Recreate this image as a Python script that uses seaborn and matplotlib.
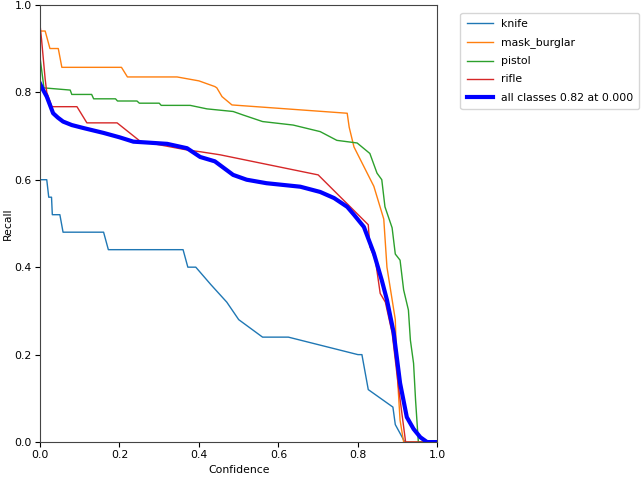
import matplotlib
matplotlib.use('Agg')
import matplotlib.pyplot as plt
import seaborn as sns

# recall vs confidence
knife_x = [0.0, 0.017, 0.022, 0.029, 0.031, 0.05, 0.058, 0.16, 0.172, 0.36, 0.372, 0.392,
           0.43, 0.47, 0.50, 0.56, 0.625, 0.80, 0.81, 0.826, 0.888, 0.894, 0.918, 1.0]
knife_y = [0.60, 0.60, 0.56, 0.56, 0.52, 0.52, 0.48, 0.48, 0.44, 0.44, 0.40, 0.40,
           0.36, 0.32, 0.28, 0.24, 0.24, 0.20, 0.20, 0.12, 0.08, 0.04, 0.0, 0.0]

mask_x = [0.0, 0.013, 0.025, 0.046, 0.055, 0.205, 0.22, 0.345, 0.40, 0.44, 0.445, 0.458,
          0.483, 0.773, 0.778, 0.79, 0.815, 0.84, 0.865, 0.873, 0.894, 0.898, 0.906, 0.915, 1.0]
mask_y = [0.94, 0.94, 0.90, 0.90, 0.857, 0.857, 0.835, 0.835, 0.826, 0.813, 0.81, 0.79,
          0.771, 0.752, 0.72, 0.675, 0.63, 0.585, 0.51, 0.40, 0.28, 0.17, 0.05, 0.0, 0.0]

pistol_x = [0.0, 0.01, 0.076, 0.08, 0.13, 0.135, 0.19, 0.195, 0.244, 0.25, 0.30, 0.305, 0.378,
            0.42, 0.486, 0.511, 0.56, 0.637, 0.705, 0.747, 0.798, 0.83, 0.848, 0.86, 0.868,
            0.886, 0.894, 0.906, 0.915, 0.927, 0.932, 0.94, 0.945, 0.952, 1.0]
pistol_y = [0.88, 0.81, 0.805, 0.795, 0.795, 0.785, 0.785, 0.78, 0.78, 0.775, 0.775, 0.77, 0.77,
            0.762, 0.756, 0.748, 0.733, 0.725, 0.71, 0.69, 0.684, 0.66, 0.615, 0.60, 0.538,
            0.49, 0.43, 0.416, 0.348, 0.302, 0.233, 0.18, 0.096, 0.0, 0.0]

rifle_x = [0.0, 0.004, 0.013, 0.017, 0.03, 0.093, 0.118, 0.194, 0.252, 0.37, 0.403, 0.453,
           0.70, 0.826, 0.83, 0.844, 0.856, 0.869, 0.886, 0.902, 0.92, 1.0]
rifle_y = [0.955, 0.92, 0.83, 0.80, 0.767, 0.767, 0.73, 0.73, 0.688, 0.668, 0.664, 0.657,
           0.611, 0.497, 0.447, 0.416, 0.34, 0.32, 0.25, 0.126, 0.0, 0.0]

all_x = [0.0, 0.008, 0.017, 0.033, 0.045, 0.058, 0.08, 0.11, 0.16, 0.20, 0.235, 0.27, 0.32,
         0.37, 0.403, 0.44, 0.486, 0.52, 0.57, 0.655, 0.705, 0.74, 0.773, 0.79, 0.815, 0.84,
         0.86, 0.873, 0.89, 0.906, 0.923, 0.94, 0.957, 0.974, 1.0]
all_y = [0.82, 0.805, 0.79, 0.752, 0.742, 0.733, 0.725, 0.718, 0.707, 0.697, 0.687, 0.685, 0.682,
         0.672, 0.652, 0.642, 0.611, 0.60, 0.592, 0.584, 0.572, 0.558, 0.538, 0.52, 0.492, 0.432,
         0.37, 0.325, 0.25, 0.135, 0.057, 0.03, 0.011, 0.0, 0.0]

fig = plt.figure(figsize=(6.41, 4.8), dpi=100)
ax = fig.add_axes([0.0624, 0.079, 0.62, 0.911])

sns.lineplot(x=knife_x, y=knife_y, ax=ax, color='tab:blue', lw=1, sort=False, estimator=None, label='knife')
sns.lineplot(x=mask_x, y=mask_y, ax=ax, color='tab:orange', lw=1, sort=False, estimator=None, label='mask_burglar')
sns.lineplot(x=pistol_x, y=pistol_y, ax=ax, color='tab:green', lw=1, sort=False, estimator=None, label='pistol')
sns.lineplot(x=rifle_x, y=rifle_y, ax=ax, color='tab:red', lw=1, sort=False, estimator=None, label='rifle')
sns.lineplot(x=all_x, y=all_y, ax=ax, color='blue', lw=3, sort=False, estimator=None,
             label='all classes 0.82 at 0.000')

ax.set_xlim(0, 1)
ax.set_ylim(0, 1)
ax.set_xlabel('Confidence', fontsize=7.8, labelpad=3)
ax.set_ylabel('Recall', fontsize=7.8, labelpad=1)
ax.tick_params(labelsize=7.8, pad=2.5)
for s in ax.spines.values():
    s.set_color('#444444')
ax.legend(bbox_to_anchor=(1.058, 0.982), loc='upper left', fontsize=7.8, borderaxespad=0,
          labelspacing=0.75, borderpad=0.6, handlelength=2.4, handletextpad=0.7)

fig.savefig('out.png', dpi=100)
